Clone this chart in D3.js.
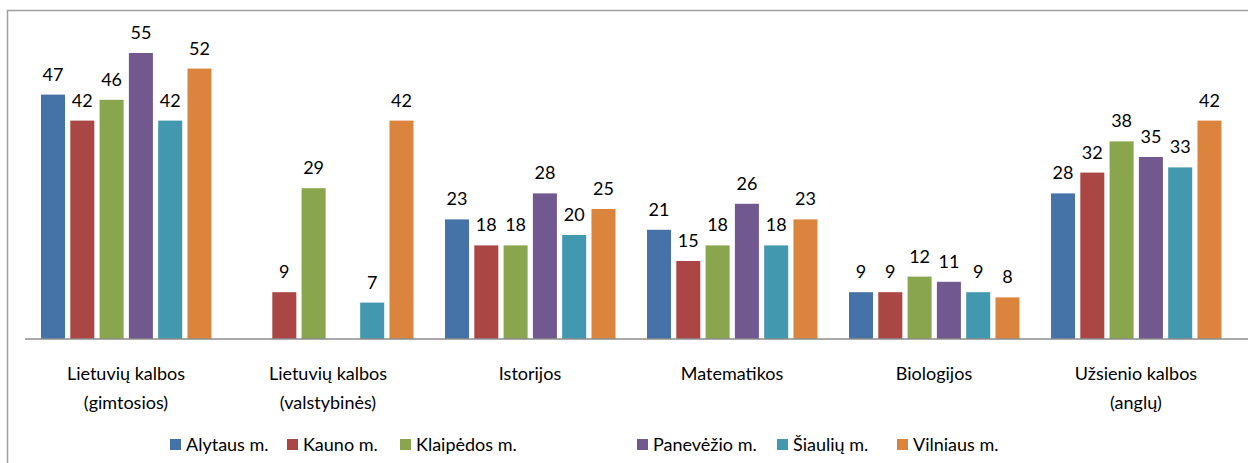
<!DOCTYPE html>
<html lang="lt">
<head>
<meta charset="utf-8">
<title>Chart</title>
<script src="https://cdn.jsdelivr.net/npm/d3@7"></script>
<style>
  body { margin: 0; background: #fff; }
  text { font-family: Lato, "Open Sans", sans-serif; fill: #000; }
</style>
</head>
<body>
<script>
// categories (two lines each)
var categories = [
  ["Lietuvių kalbos", "(gimtosios)"],
  ["Lietuvių kalbos", "(valstybinės)"],
  ["Istorijos"],
  ["Matematikos"],
  ["Biologijos"],
  ["Užsienio kalbos", "(anglų)"]
];
var seriesNames = ["Alytaus m.", "Kauno m.", "Klaipėdos m.", "Panevėžio m.", "Šiaulių m.", "Vilniaus m."];
var seriesColors = ["#4572A7", "#AA4643", "#89A54E", "#71588F", "#4198AF", "#DB843D"];

// values per series, in category order (null = no bar)
var alytaus   = [47, null, 23, 21, 9, 28];
var kauno     = [42, 9, 18, 15, 9, 32];
var klaipedos = [46, 29, 18, 18, 12, 38];
var panevezio = [55, null, 28, 26, 11, 35];
var siauliu   = [42, 7, 20, 18, 9, 33];
var vilniaus  = [52, 42, 25, 23, 8, 42];
var allSeries = [alytaus, kauno, klaipedos, panevezio, siauliu, vilniaus];

var W = 1248, H = 463;
var svg = d3.select("body").append("svg").attr("width", W).attr("height", H);

// chart frame
svg.append("rect")
  .attr("x", 7.5).attr("y", 10.5)
  .attr("width", W).attr("height", H)
  .attr("fill", "none").attr("stroke", "#a0a0a0").attr("stroke-width", 1.5);

var baseY = 339;
var catIdx = d3.range(categories.length);

var x0 = d3.scaleBand().domain(catIdx).range([25, 1237]).padding(0);
var x1 = d3.scaleBand().domain(d3.range(seriesNames.length))
  .range([16, 186.5]).paddingInner(0.18).paddingOuter(0);
var y = d3.scaleLinear().domain([0, 60]).range([baseY, baseY - 312]);

var rows = [];
allSeries.forEach(function(vals, s) {
  vals.forEach(function(v, c) {
    if (v != null) rows.push({s: s, c: c, v: v});
  });
});

svg.append("g").selectAll("rect").data(rows).enter().append("rect")
  .attr("x", function(d) { return x0(d.c) + x1(d.s); })
  .attr("y", function(d) { return y(d.v); })
  .attr("width", x1.bandwidth())
  .attr("height", function(d) { return baseY - y(d.v); })
  .attr("fill", function(d) { return seriesColors[d.s]; });

svg.append("g").selectAll("text").data(rows).enter().append("text")
  .attr("x", function(d) { return x0(d.c) + x1(d.s) + x1.bandwidth() / 2; })
  .attr("y", function(d) { return y(d.v) - 14; })
  .attr("text-anchor", "middle")
  .style("font-size", "18px")
  .text(function(d) { return d.v; });

// x axis
var xAxis = d3.axisBottom(x0).tickSize(0).tickFormat("");
var gx = svg.append("g").attr("transform", "translate(0," + baseY + ")").call(xAxis);
gx.select(".domain").attr("d", "M25,0H" + W).attr("stroke", "#8c8c8c").attr("stroke-width", 1.5);

var catLabels = svg.append("g").selectAll("text").data(catIdx).enter().append("text")
  .attr("x", function(c) { return x0(c) + x0.bandwidth() / 2; })
  .attr("y", 380)
  .attr("text-anchor", "middle")
  .style("font-size", "18px");
catLabels.selectAll("tspan").data(function(c) { return categories[c]; }).enter().append("tspan")
  .attr("x", function() { var c = d3.select(this.parentNode).datum(); return x0(c) + x0.bandwidth() / 2; })
  .attr("dy", function(d, i) { return i === 0 ? 0 : 29; })
  .text(function(d) { return d; });

// legend
var legendX = [170, 287, 400, 637, 777, 897];
var leg = svg.append("g").selectAll("g").data(seriesNames).enter().append("g")
  .attr("transform", function(d, i) { return "translate(" + legendX[i] + ",439)"; });
leg.append("rect").attr("width", 11).attr("height", 11)
  .attr("fill", function(d, i) { return seriesColors[i]; });
leg.append("text").attr("x", 16).attr("y", 12)
  .style("font-size", "18px")
  .text(function(d) { return d; });
</script>
</body>
</html>
